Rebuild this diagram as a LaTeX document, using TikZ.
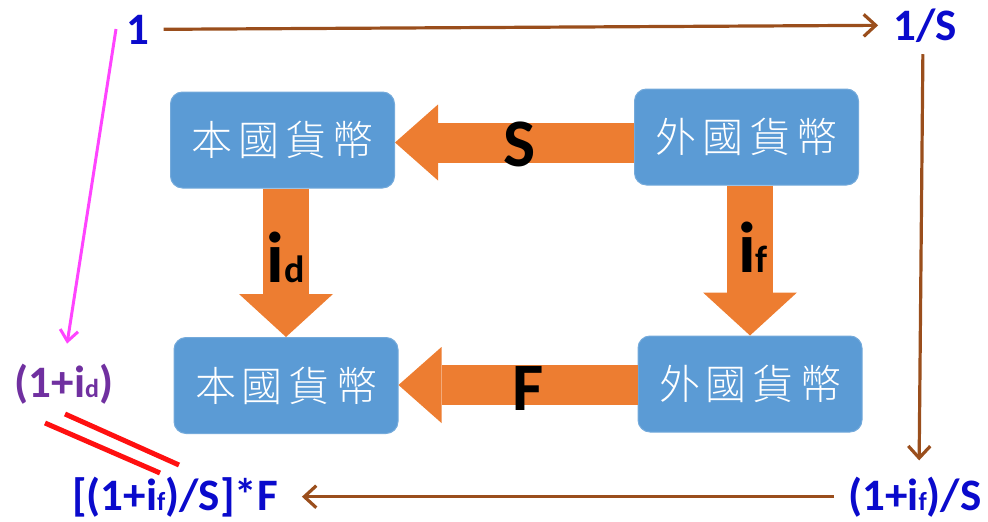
\documentclass[tikz,border=0pt]{standalone}
\usepackage{fontspec}
\setmainfont{Carlito}
\newfontfamily\cjk{Noto Sans CJK TC}[UprightFont={* Light}]
\usetikzlibrary{arrows.meta}
\definecolor{boxblue}{HTML}{5B9BD5}
\definecolor{arrorange}{HTML}{ED7D31}
\definecolor{brownline}{HTML}{9A4E1C}
\definecolor{labelblue}{HTML}{0A0ACC}
\definecolor{labelpurple}{HTML}{7030A0}
\definecolor{pinkline}{HTML}{FF44FF}
\definecolor{eqred}{HTML}{FF1010}
\newcommand{\smsub}[1]{{\fontsize{26}{28}\selectfont #1}}
\newcommand{\bigsub}[2]{{\fontsize{72}{76}\selectfont #1}{\fontsize{38}{40}\selectfont #2}}
\newcommand{\spaced}[4]{#1\hspace{6pt}#2\hspace{6pt}#3\hspace{6pt}#4}
\begin{document}
\begin{tikzpicture}[x=1pt,y=-1pt,
  money/.style={draw=boxblue!85!white, line width=1pt, fill=boxblue, rounded corners=12pt,
    text=white, font=\cjk\fontsize{41}{44}\selectfont, inner sep=0pt,
    minimum width=224pt, minimum height=96pt},
  blockarrow/.style={draw=arrorange, line width=40pt,
    -{Triangle[length=43pt,width=76pt,line width=0pt]}},
  vblockarrow/.style={draw=arrorange, line width=46pt,
    -{Triangle[length=43pt,width=94pt,line width=0pt]}},
  blocklabel/.style={anchor=base, inner sep=0pt, font=\bfseries\fontsize{68}{72}\selectfont, text=black},
  bluetxt/.style={anchor=base, inner sep=0pt, font=\bfseries\fontsize{45}{50}\selectfont, text=labelblue},
  purpletxt/.style={anchor=base, inner sep=0pt, font=\bfseries\fontsize{45}{50}\selectfont, text=labelpurple},
  brownarrow/.style={draw=brownline, line width=3.2pt, -{Straight Barb[length=12pt,width=22pt]}},
  pinkarrow/.style={draw=pinkline, line width=3pt, -{Straight Barb[length=11pt,width=18pt]}},
  eqline/.style={draw=eqred, line width=5pt}
]
\useasboundingbox (0,0) rectangle (988,522);

% currency boxes
\node[money] (tl) at (282.5,140) {\spaced{本}{國}{貨}{幣}};
\node[money] (tr) at (746.5,137) {\spaced{外}{國}{貨}{幣}};
\node[money] (bl) at (286,385.5) {\spaced{本}{國}{貨}{幣}};
\node[money] (br) at (750,384) {\spaced{外}{國}{貨}{幣}};

% block arrows
\draw[blockarrow] (tr.west |- 0,142.5) -- (tl.east |- 0,142.5);
\draw[blockarrow] (br.west |- 0,385) -- (bl.east |- 0,385);
\draw[vblockarrow] (bl.north |- tl.south) -- (bl.north);
\draw[vblockarrow] (br.north |- tr.south) -- (br.north);

% block arrow labels
\node[blocklabel] (lS) at (520,166) {S};
\node[blocklabel] (lF) at (528,410) {F};
\node[blocklabel] (lid) at (286,282) {\bigsub{i}{d}};
\node[blocklabel] (lif) at (753,272) {\bigsub{i}{f}};

% outer labels
\node[bluetxt] (one) at (138,44) {1};
\node[bluetxt] (oneS) at (925,40) {1/S};
\node[purpletxt] (pid) at (64,397) {(1+i\smsub{d})};
\node[bluetxt] (fwd) at (175,510) {[(1+i\smsub{f})/S]*F};
\node[bluetxt] (ifS) at (915,510) {(1+i\smsub{f})/S};

% brown connectors
\draw[brownarrow, shorten <=14pt, shorten >=15pt] (one.east) -- (oneS.west);
\draw[brownarrow, shorten <=12pt, shorten >=16pt] ([xshift=-2pt]oneS.south) -- ([xshift=4pt]ifS.north);
\draw[brownarrow, shorten <=14pt, shorten >=24pt] (ifS.west) -- (fwd.east);

% magenta connector
\coordinate (ptop) at (116,29);
\draw[pinkarrow, shorten >=20pt] (ptop) -- (pid.north);

% equality sign
\draw[eqline] (45,423) -- (160,473);
\draw[eqline] (65,414) -- (179,465);
\end{tikzpicture}
\end{document}
